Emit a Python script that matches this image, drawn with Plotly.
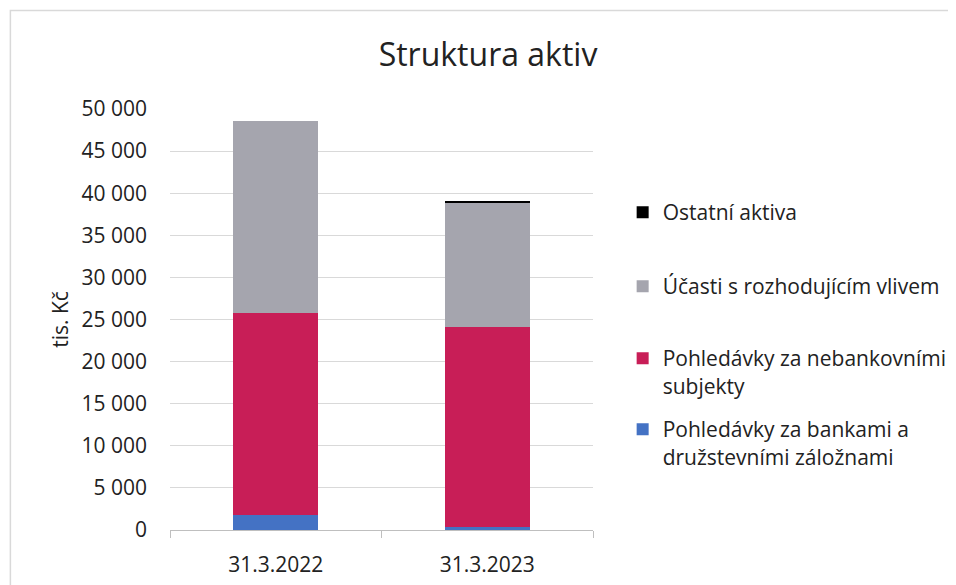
import plotly.graph_objects as go

dates = ["31.3.2022", "31.3.2023"]
banky = [1800, 350]
nebankovni = [23950, 23800]
ucasti = [22800, 14720]
ostatni = [0, 110]

names = [
    "Pohledávky za bankami a<br>družstevními záložnami",
    "Pohledávky za nebankovními<br>subjekty",
    "Účasti s rozhodujícím vlivem",
    "Ostatní aktiva",
]
series = [banky, nebankovni, ucasti, ostatni]
colors = ["#4472C4", "#C81E57", "#A5A5AE", "#000000"]
legends = ["legend4", "legend3", "legend2", "legend"]

W, H = 956, 585
OFF = 8  # page body margin
L, R, T, B = 162, 366, 101, 63
pw, ph = W - L - R, H - T - B

def px(x):
    return (x - L) / pw

def py(y):
    return (H - B - y) / ph

fig = go.Figure()
for n, s, c, lg in zip(names, series, colors, legends):
    fig.add_trace(go.Bar(x=dates, y=s, name=n, marker=dict(color=c, line=dict(width=0)),
                         legend=lg, showlegend=True))

font = "Open Sans, DejaVu Sans, sans-serif"
txt = "#222222"
leg_tops = [184, 258, 330, 401]
leg_common = dict(font=dict(family=font, size=21, color=txt), bgcolor="rgba(0,0,0,0)",
                  xanchor="left", yanchor="top", valign="top", itemclick=False,
                  visible=True)
lay_leg = {}
for key, top in zip(["legend", "legend2", "legend3", "legend4"], leg_tops):
    lay_leg[key] = dict(x=px(620), y=py(top), **leg_common)

fig.update_layout(
    width=W, height=H,
    margin=dict(l=L, r=R, t=T, b=B),
    barmode="stack", bargap=0.6,
    separators=", ",
    showlegend=True,
    paper_bgcolor="white", plot_bgcolor="white",
    title=dict(text="Struktura aktiv", x=(488 - OFF) / W, xanchor="center", y=1 - (55 - OFF) / H,
               yanchor="middle", font=dict(family=font, size=32, color=txt)),
    font=dict(family=font, size=21, color=txt),
    xaxis=dict(showline=True, linecolor="#bfbfbf", linewidth=1, ticks="outside", tickson="boundaries",
               ticklen=7, tickcolor="#bfbfbf", showgrid=False, ticklabelstandoff=16,
               tickfont=dict(family=font, size=21, color=txt)),
    yaxis=dict(range=[0, 50000], dtick=5000, tickformat=",d", showgrid=True, gridcolor="#d9d9d9",
               gridwidth=1, zeroline=False, showline=False, ticks="", ticklabelstandoff=22,
               tickfont=dict(family=font, size=21, color=txt),
               title=dict(text="tis. Kč", standoff=7, font=dict(family=font, size=21, color=txt))),
    shapes=[dict(type="rect", xref="paper", yref="paper", x0=px(0.5), x1=px(1100), y0=py(800), y1=py(2.5),
                 line=dict(color="#d9d9d9", width=1.5), fillcolor="rgba(0,0,0,0)", layer="below")],
    **lay_leg,
)

fig.write_html("out.html")
